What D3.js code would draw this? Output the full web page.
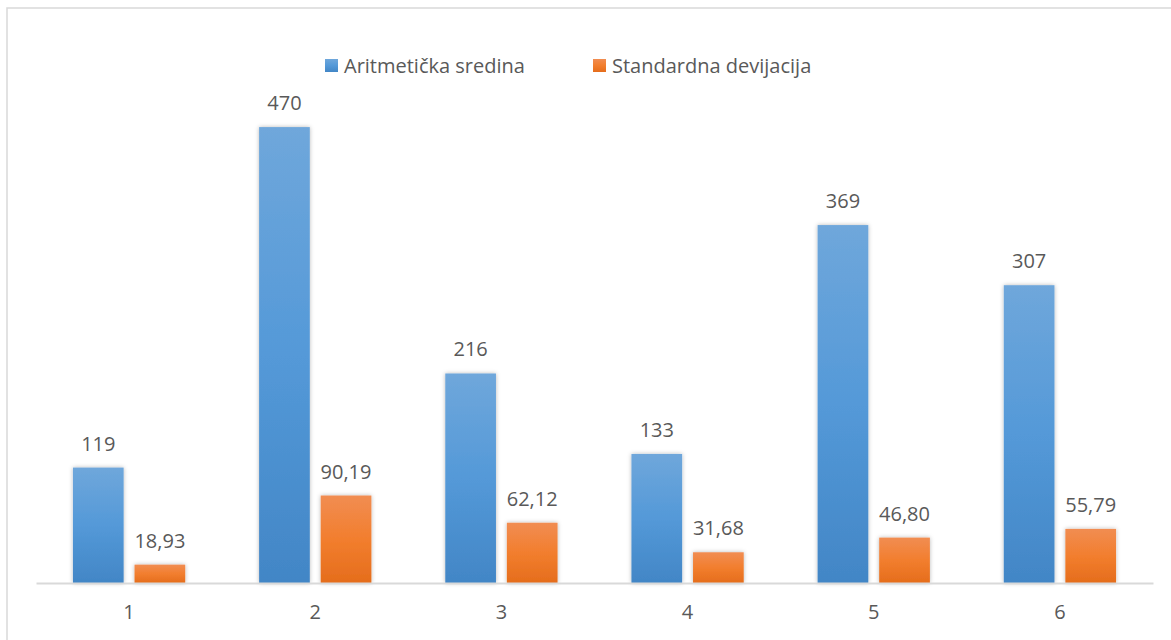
<!DOCTYPE html>
<html>
<head>
<meta charset="utf-8">
<script src="https://cdn.jsdelivr.net/npm/d3@7"></script>
<style>
  html, body { margin: 0; padding: 0; background: #fff; }
  svg { display: block; }
  text { font-family: "Open Sans", "Noto Sans", sans-serif; fill: #595959; }
</style>
</head>
<body>
<svg id="chart" width="1171" height="640"></svg>
<script>
// Categories and series
const categories = ["1", "2", "3", "4", "5", "6"];
const seriesNames = ["Aritmetička sredina", "Standardna devijacija"];
const meanValues = [119, 470, 216, 133, 369, 307];
const sdValues = [18.93, 90.19, 62.12, 31.68, 46.80, 55.79];
const meanLabels = ["119", "470", "216", "133", "369", "307"];
const sdLabels = ["18,93", "90,19", "62,12", "31,68", "46,80", "55,79"];

const svg = d3.select("#chart");
const W = 1171, H = 640;

// Outer chart-area frame (runs off the right and bottom edges)
svg.append("rect")
  .attr("x", 7).attr("y", 8)
  .attr("width", W + 10).attr("height", H + 10)
  .attr("fill", "#fff")
  .attr("stroke", "#d9d9d9").attr("stroke-width", 1.5);

const defs = svg.append("defs");
const gradBlue = defs.append("linearGradient").attr("id", "gBlue")
  .attr("x1", 0).attr("y1", 0).attr("x2", 0).attr("y2", 1);
gradBlue.append("stop").attr("offset", "0%").attr("stop-color", "#6fa7db");
gradBlue.append("stop").attr("offset", "50%").attr("stop-color", "#5499d8");
gradBlue.append("stop").attr("offset", "100%").attr("stop-color", "#4286c6");
const gradOrange = defs.append("linearGradient").attr("id", "gOrange")
  .attr("x1", 0).attr("y1", 0).attr("x2", 0).attr("y2", 1);
gradOrange.append("stop").attr("offset", "0%").attr("stop-color", "#f18d52");
gradOrange.append("stop").attr("offset", "50%").attr("stop-color", "#f27e2e");
gradOrange.append("stop").attr("offset", "100%").attr("stop-color", "#e56d1c");

const shadow = defs.append("filter").attr("id", "barShadow")
  .attr("x", "-20%").attr("y", "-20%").attr("width", "140%").attr("height", "140%");
shadow.append("feDropShadow")
  .attr("dx", 0).attr("dy", 0).attr("stdDeviation", 2)
  .attr("flood-color", "#000").attr("flood-opacity", 0.28);

const plot = { left: 36, right: 1153, top: 98, bottom: 583 };

const x0 = d3.scaleBand().domain(categories)
  .range([plot.left, plot.right]).paddingInner(0).paddingOuter(0);
const x1 = d3.scaleBand().domain([0, 1])
  .range([0, x0.bandwidth()]).paddingInner(0.177).paddingOuter(0.6);
const y = d3.scaleLinear().domain([0, 500]).range([plot.bottom, plot.top]);

const fills = ["url(#gBlue)", "url(#gOrange)"];
const data = [meanValues, sdValues];
const labels = [meanLabels, sdLabels];

// Bars
const groups = svg.append("g").selectAll("g").data(categories).join("g")
  .attr("transform", d => `translate(${x0(d)},0)`);

[0, 1].forEach(s => {
  groups.append("rect")
    .attr("x", x1(s))
    .attr("y", (d, i) => y(data[s][i]))
    .attr("width", x1.bandwidth())
    .attr("height", (d, i) => y(0) - y(data[s][i]))
    .attr("fill", fills[s])
    .attr("filter", "url(#barShadow)");
  groups.append("text")
    .attr("x", x1(s) + x1.bandwidth() / 2)
    .attr("y", (d, i) => y(data[s][i]) - 17)
    .attr("text-anchor", "middle")
    .style("font-size", "20px")
    .text((d, i) => labels[s][i]);
});

// Category axis
const xAxis = svg.append("g").attr("transform", `translate(0,${plot.bottom})`)
  .call(d3.axisBottom(x0).tickSize(0).tickPadding(22));
xAxis.select(".domain").attr("stroke", "#d9d9d9").attr("stroke-width", 2);
xAxis.selectAll("text").style("font-size", "20px")
  .style("font-family", '"Open Sans", "Noto Sans", sans-serif').attr("fill", "#595959");

// Legend
const legendItems = [
  { name: seriesNames[0], fill: "url(#gBlue)", x: 325 },
  { name: seriesNames[1], fill: "url(#gOrange)", x: 593 }
];
const legend = svg.append("g").selectAll("g").data(legendItems).join("g")
  .attr("transform", d => `translate(${d.x},59)`);
legend.append("rect").attr("width", 13).attr("height", 13).attr("fill", d => d.fill);
legend.append("text").attr("x", 19).attr("y", 14)
  .style("font-size", "20px").text(d => d.name);
</script>
</body>
</html>
